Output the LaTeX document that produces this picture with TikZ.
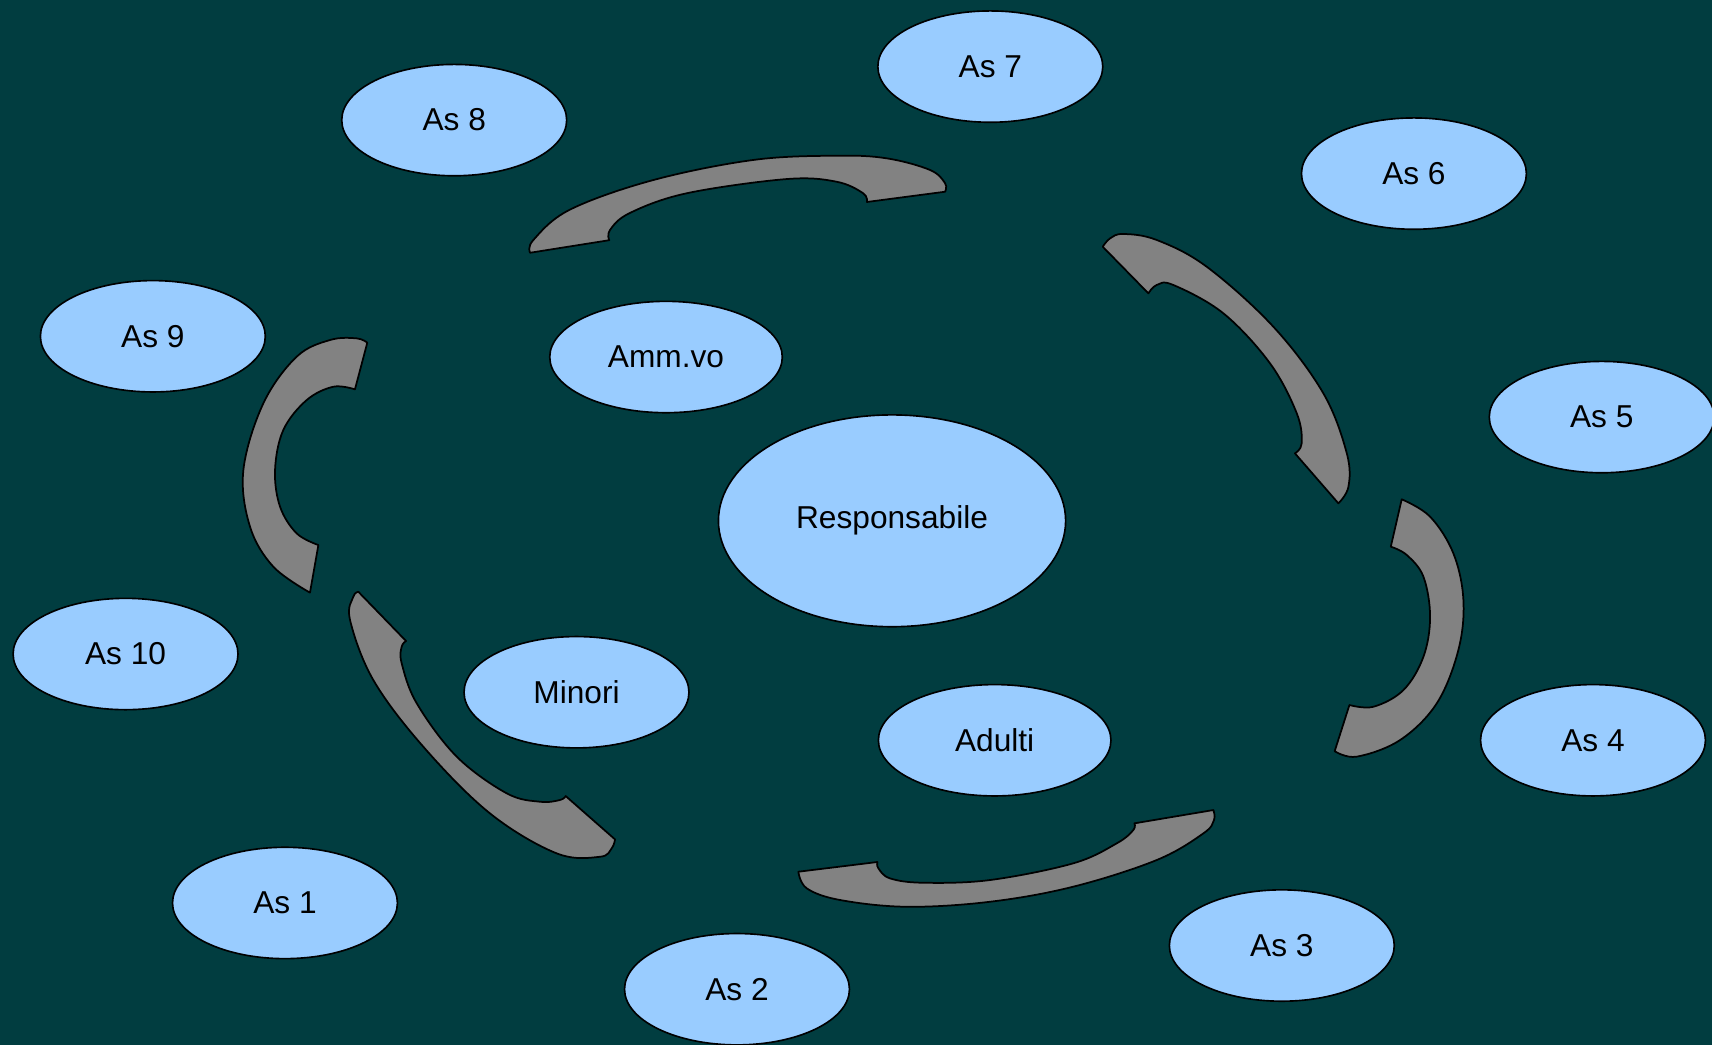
\documentclass[tikz,border=0pt]{standalone}
\usepackage{fontspec}
\setmainfont{Liberation Sans}
\usetikzlibrary{shapes.geometric}
\definecolor{bgteal}{RGB}{1,61,64}
\definecolor{bubfill}{RGB}{153,204,255}
\definecolor{bandfill}{RGB}{130,130,130}
\tikzset{
  bub/.style={ellipse, draw=black, line width=1.5pt, fill=bubfill, inner sep=0pt,
    minimum width=206pt, minimum height=102pt, font=\fontsize{29}{34}\selectfont},
  band/.style={fill=bandfill, draw=black, line width=1.6pt, line join=round}
}
\begin{document}
\begin{tikzpicture}[x=1pt,y=-1pt]
\fill[bgteal] (0,0) rectangle (1568,957);
\useasboundingbox (0,0) rectangle (1568,957);

% top band
\path[band] plot[smooth,tension=0.6] coordinates {(485.5,231.5) (488.5,219.8) (522,192) (598,165) (690,146.5) (766.3,142.6) (812,145) (851.8,155.7) (865.6,167.9) (865.6,175.6)}
  -- plot[smooth,tension=0.6] coordinates {(794,185) (790.5,177) (766,166.4) (720.5,164) (629,177) (577,195) (558.7,210.6) (558,220)} -- cycle;
% upper right band
\path[band] plot[smooth,tension=0.6] coordinates {(1010,226) (1016.7,218.3) (1028.9,214.3) (1059.4,219.8) (1105.2,244.3) (1166.2,299.2) (1212,360.2) (1233.5,415.2) (1235,445.8) (1225.8,461)}
  -- plot[smooth,tension=0.6] coordinates {(1186,415.2) (1192.2,406) (1187.7,378.6) (1163.2,332.8) (1120.5,287) (1074.6,261) (1059.4,261) (1051.8,268.7)} -- cycle;
% right band
\path[band] plot[smooth,tension=0.6] coordinates {(1283.8,457.3) (1309.8,473.2) (1331.1,506.8) (1340.3,549.5) (1335.7,595.3) (1315.9,644.2) (1282.3,677.8) (1242.6,693) (1222.4,688)}
  -- plot[smooth,tension=0.6] coordinates {(1235.9,645.7) (1257.9,647.3) (1285.4,632) (1303.7,601.5) (1309.8,564.8) (1303.7,528.2) (1288.4,508.3) (1273.8,500.7)} -- cycle;
% bottom band
\path[band] plot[smooth,tension=0.6] coordinates {(1111.3,741.9) (1111.9,751) (1102.1,763.3) (1059.4,787.7) (983,812.1) (906.8,825.9) (830.5,830.5) (769.4,824.3) (738.9,813.6) (731.2,798.4)}
  -- plot[smooth,tension=0.6] coordinates {(803.6,789.5) (804.5,795.3) (815.2,804.5) (845.7,808.5) (906.8,806) (983,790.7) (1022.8,772.4) (1038,760.2) (1038.9,754.1)} -- cycle;
% lower left band
\path[band] plot[smooth,tension=0.6] coordinates {(563.3,768.8) (560.2,777) (549.5,784.7) (509.9,781.6) (448.8,745) (387.7,683.9) (341.9,622.8) (320.6,567.9) (323.6,546.5) (328.2,542)}
  -- plot[smooth,tension=0.6] coordinates {(371.9,587.1) (367.9,592.3) (367.9,607.5) (381.7,644.2) (418.3,693) (464.1,726.6) (494.6,734.3) (512.9,732.7) (518.1,729.1)} -- cycle;
% left band
\path[band] plot[smooth,tension=0.6] coordinates {(336.4,313.9) (326.7,309.9) (302.3,311.4) (271.7,326.7) (241.2,369.4) (222.9,430.5) (229,482.4) (250.3,519) (283.9,542.8)}
  -- plot[smooth,tension=0.6] coordinates {(291.6,499.2) (271.7,488.5) (256.5,464.1) (251.9,430.5) (259.5,393.8) (280.9,366.4) (305.3,354.2) (325.1,356.6)} -- cycle;

\node[bub] (as7) at (907,61) {As 7};
\node[bub] (as8) at (416,110) {As 8};
\node[bub] (as6) at (1295,159) {As 6};
\node[bub] (as9) at (140,308) {As 9};
\node[bub, minimum width=213pt] (amm) at (610,327) {Amm.vo};
\node[bub] (as5) at (1467,382) {As 5};
\node[bub, minimum width=318pt, minimum height=194pt] (resp) at (817,477) {Responsabile};
\node[bub] (as10) at (115,599) {As 10};
\node[bub] (minori) at (528,634) {Minori};
\node[bub, minimum width=213pt] (adulti) at (911,678) {Adulti};
\node[bub] (as4) at (1459,678) {As 4};
\node[bub] (as1) at (261,827) {As 1};
\node[bub] (as3) at (1174,866) {As 3};
\node[bub] (as2) at (675,906) {As 2};
\end{tikzpicture}
\end{document}
